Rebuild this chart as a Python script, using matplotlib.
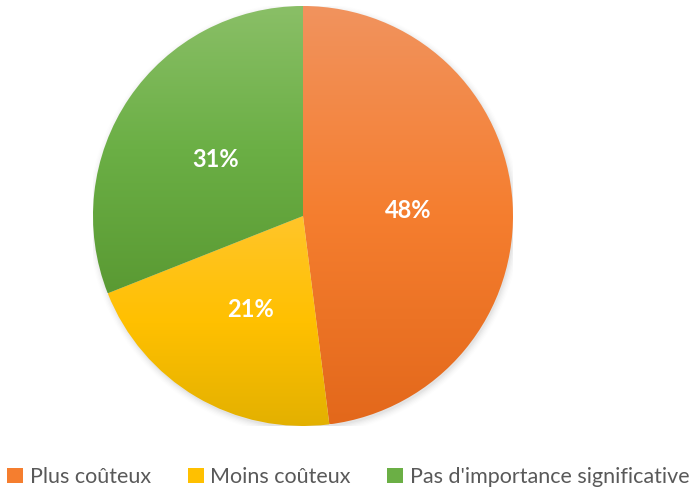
import numpy as np
import matplotlib
matplotlib.use("Agg")
import matplotlib.pyplot as plt
from matplotlib.colors import LinearSegmentedColormap
from matplotlib.patches import Circle, Patch

labels = ["Plus coûteux", "Moins coûteux", "Pas d'importance significative"]
values = [48, 21, 31]
pct_text = ["48%", "21%", "31%"]
# (top, middle, bottom) colours for each slice's vertical gradient
grad_colours = [("#F1935E", "#F57E2F", "#E3681B"),
                ("#FFC52A", "#FFC000", "#E2B000"),
                ("#8ABF67", "#6BAF45", "#5A9A33")]
label_pos = [(0.50, 0.024), (-0.248, -0.443), (-0.414, 0.267)]

plt.rcParams["font.family"] = ["Lato", "DejaVu Sans"]

W, H = 694, 492
fig = plt.figure(figsize=(W / 100, H / 100), dpi=100)
cx, cy, r = 303, 216, 210
ax = fig.add_axes([(cx - r) / W, (H - cy - r) / H, 2 * r / W, 2 * r / H])
ax.axis("off")

# soft shadow
for i, a in enumerate(np.linspace(0.05, 0.012, 6)):
    ax.add_patch(Circle((0.006, -0.012), 1.0 + 0.006 * i, color="#000000",
                        alpha=a * 0.6, lw=0, zorder=0))

wedges, _ = ax.pie(values, startangle=90, counterclock=False, radius=1.0,
                   wedgeprops=dict(lw=0))
ax.set_xlim(-1, 1)
ax.set_ylim(-1, 1)
ax.set_aspect("equal")

grad = np.linspace(0, 1, 256).reshape(-1, 1)
for w, (top, mid, bot) in zip(wedges, grad_colours):
    w.set_facecolor("none")
    verts = w.get_patch_transform().transform(w.get_path().vertices)
    y0, y1 = verts[:, 1].min(), verts[:, 1].max()
    x0, x1 = verts[:, 0].min(), verts[:, 0].max()
    cmap = LinearSegmentedColormap.from_list("g", [bot, mid, top])
    im = ax.imshow(grad, cmap=cmap, origin="lower", aspect="auto",
                   extent=(x0, x1, y0, y1), zorder=1, interpolation="bilinear")
    im.set_clip_path(w)

for (x, y), t in zip(label_pos, pct_text):
    ax.text(x, y, t, ha="center", va="center", color="white",
            fontsize=17, fontweight="bold", zorder=3)

handles = [Patch(facecolor=c[1], edgecolor="none") for c in grad_colours]
fig.legend(handles, labels, loc="center", bbox_to_anchor=(0.502, 1 - 477 / H),
           ncol=3, frameon=False, fontsize=15.5, labelcolor="#595959",
           handlelength=0.75, handleheight=0.75, handletextpad=0.3,
           columnspacing=1.7)

fig.savefig("out.png", dpi=100)
